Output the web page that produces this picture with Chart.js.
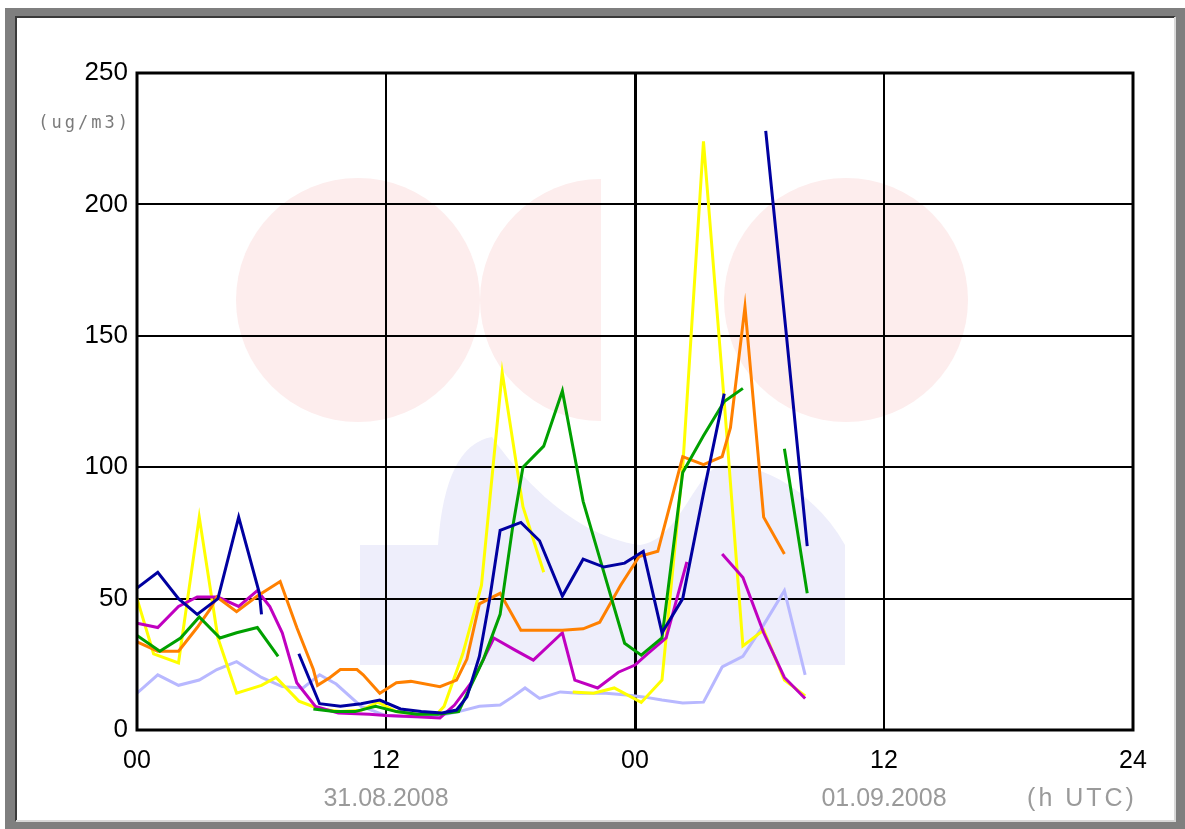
<!DOCTYPE html>
<html>
<head>
<meta charset="utf-8">
<script src="https://cdn.jsdelivr.net/npm/chart.js@4.4.0/dist/chart.umd.min.js"></script>
<style>
html, body { margin: 0; padding: 0; background: #fff; }
#wrap { position: relative; width: 1185px; height: 829px; }
</style>
</head>
<body>
<div id="wrap"><canvas id="chart" width="1185" height="829"></canvas></div>
<script>
// x axis: hours since 31.08.2008 00 UTC
const xTickLabels = ['00', '12', '00', '12', '24'];
const dateLabels = ['31.08.2008', '01.09.2008'];

// null = no measurement (line break)
const navyHours  = [0, 1, 2, 2.9, 3.9, 4.9, 5.9, 6.0, 7, 7.8, 8.8, 9.8, 10.8, 11.7, 12.7, 13.7, 14.7, 15.4, 15.9, 16.5, 17.0, 17.5, 18.5, 19.4, 20.5, 21.5, 22.5, 23.5, 24.4, 25.3, 26.3, 27.3, 28.3, 29.3, 30.3, 31.3, 32.3];
const navyValues = [54, 60, 50, 44, 50, 81, 52, 44, null, 29, 10, 9, 10, 11.4, 8, 7, 6.5, 7.6, 12.6, 28, 50, 76, 79, 72, 51, 65, 62, 63.5, 68, 37, 50, 90, 128, null, 228, 150, 70];

const greenHours  = [0, 1.1, 2.1, 3, 4, 4.8, 5.8, 6.8, 7.6, 8.5, 9.5, 10.5, 11.5, 12.5, 13.5, 14.5, 15.5, 16.7, 17.5, 18.1, 18.6, 19.6, 20.5, 21.5, 22.5, 23.5, 24.3, 25.3, 26.3, 27.3, 28.3, 29.2, 30.2, 31.2, 32.3];
const greenValues = [36, 30, 35, 43, 35, 37, 39, 28, null, 8, 7, 7, 9, 7, 6, 6, 7, 27, 44, 77, 100, 108, 129, 87, 60, 33, 28.5, 35, 98, 112, 125, 130, null, 107, 52];

const yellowHours  = [0, 0.8, 2, 3, 3.9, 4.8, 6, 6.7, 7.8, 8.8, 9.8, 10.8, 11.6, 12.5, 13.5, 14.5, 14.8, 15.7, 16.6, 17.6, 18.6, 19.6, 20.3, 21, 22, 23, 24.3, 25.3, 26.3, 27.3, 28.3, 29.2, 30.2, 31.2, 32.2];
const yellowValues = [50, 29, 25.5, 81, 35, 14, 17, 20, 11, 8, 7, 7.5, 10.6, 7, 6, 6.5, 9, 29, 55, 136, 85, 60, null, 14.5, 14, 16, 10.5, 19, 100, 224, 125, 32, 38, 19, 13];

const orangeHours  = [0, 1, 2, 2.9, 3.5, 3.85, 4.8, 5.8, 6.9, 7.7, 8.5, 8.7, 9.3, 9.8, 10.6, 10.9, 11.7, 12.5, 13.2, 14.6, 15.4, 15.9, 16.5, 17.5, 18.5, 20.5, 21.5, 22.3, 23.3, 24.2, 25.1, 26.3, 27.3, 28.2, 28.6, 29.3, 30.2, 31.2];
const orangeValues = [33.5, 30, 30, 39, 45.7, 50.6, 45, 51, 56.5, 39, 23, 17, 20, 23, 23, 21, 14, 18, 18.5, 16.5, 19, 27, 48, 52, 38, 38, 38.5, 41, 55, 66, 68, 104, 101, 104, 115, 161, 81, 67];

const magentaHours  = [0, 1, 2, 2.9, 3.9, 4.9, 5.8, 6.4, 7, 7.7, 8.6, 9.7, 11.2, 12, 13.5, 14.6, 15.3, 16.2, 17.2, 18.2, 19.1, 20.5, 21.1, 22.2, 23.2, 24, 24.6, 25.5, 26.5, 27.3, 28.2, 29.2, 30.2, 31.2, 32.2];
const magentaValues = [40.6, 39, 47, 50.6, 50.6, 47, 53, 47, 37, 18, 9, 6.5, 6, 5.5, 5, 4.6, 9.5, 19, 35, 30.5, 26.6, 37, 19, 16, 22, 24.7, 29, 35, 64, null, 67, 58, 37, 20, 12];

const lilacHours  = [0, 1, 2, 3, 3.85, 4.8, 6, 7, 8, 8.8, 9.6, 10.8, 12, 13.2, 14.3, 15.5, 16.5, 17.5, 18.1, 18.7, 19.4, 20.4, 21.3, 22.6, 23.6, 24.4, 25.3, 26.3, 27.3, 27.6, 28.2, 29.2, 30.2, 31.2, 32.2];
const lilacValues = [14, 21, 17, 19, 23, 26, 20, 16.5, 16, 21, 17.5, 9, 5.5, 5, 5, 7, 9, 9.5, 12.6, 16, 12, 14.5, 14, 14, 13.3, 12.6, 11.4, 10.3, 10.6, 15, 24, 28, 40, 53, 21];

function toPoints(hours, values) {
    return hours.map(function(h, i) { return { x: h, y: values[i] }; });
}

function series(hours, values, color, order) {
    return {
        data: toPoints(hours, values),
        borderColor: color,
        borderWidth: 3,
        pointRadius: 0,
        tension: 0,
        spanGaps: false,
        fill: false,
        order: order
    };
}

// frame, watermark logo and extra labels
const decoPlugin = {
    id: 'deco',
    beforeDraw: function(chart) {
        const ctx = chart.ctx;
        const a = chart.chartArea;
        ctx.save();
        ctx.fillStyle = '#ffffff';
        ctx.fillRect(0, 0, chart.width, chart.height);
        // gray window frame
        ctx.fillStyle = '#7f7f7f';
        ctx.fillRect(5, 8, chart.width - 5, chart.height - 8);
        ctx.fillStyle = '#ffffff';
        ctx.fillRect(17, 18, 1157, 802);
        ctx.strokeStyle = '#3a3a3a';
        ctx.lineWidth = 2;
        ctx.beginPath();
        ctx.moveTo(16, 821); ctx.lineTo(16, 17); ctx.lineTo(1175, 17);
        ctx.stroke();
        ctx.strokeStyle = '#d8d8d8';
        ctx.beginPath();
        ctx.moveTo(16, 821); ctx.lineTo(1175, 821); ctx.lineTo(1175, 17);
        ctx.stroke();

        // watermark
        ctx.beginPath();
        ctx.rect(a.left, a.top, a.right - a.left, a.bottom - a.top);
        ctx.clip();
        ctx.fillStyle = '#eeeefb';
        ctx.beginPath();
        ctx.moveTo(360, 545);
        ctx.lineTo(438, 545);
        ctx.quadraticCurveTo(445, 445, 492, 437);
        ctx.bezierCurveTo(510, 462, 565, 535, 640, 545);
        ctx.bezierCurveTo(680, 540, 695, 470, 722, 465);
        ctx.bezierCurveTo(780, 462, 830, 515, 845, 545);
        ctx.lineTo(845, 665);
        ctx.lineTo(360, 665);
        ctx.closePath();
        ctx.fill();

        ctx.fillStyle = '#fdeded';
        ctx.beginPath();
        ctx.arc(358, 300, 122, 0, Math.PI * 2);
        ctx.fill();
        ctx.save();
        ctx.beginPath();
        ctx.rect(0, 0, 601, chart.height);
        ctx.clip();
        ctx.beginPath();
        ctx.arc(601, 300, 121, 0, Math.PI * 2);
        ctx.fill();
        ctx.restore();
        ctx.beginPath();
        ctx.arc(846, 300, 122, 0, Math.PI * 2);
        ctx.fill();
        ctx.restore();
    },
    afterDraw: function(chart) {
        const ctx = chart.ctx;
        const a = chart.chartArea;
        const xs = chart.scales.x;
        ctx.save();
        ctx.strokeStyle = '#000';
        ctx.lineWidth = 3;
        ctx.strokeRect(a.left, a.top, a.right - a.left, a.bottom - a.top);

        ctx.fillStyle = '#7a7a7a';
        ctx.textBaseline = 'middle';
        ctx.textAlign = 'right';
        ctx.font = '17px "DejaVu Sans Mono", monospace';
        ctx.letterSpacing = '3px';
        ctx.fillText('(ug/m3)', 131, 124);

        ctx.letterSpacing = '0px';
        ctx.textAlign = 'center';
        ctx.font = '25px "Liberation Sans", Arial, sans-serif';
        ctx.fillStyle = '#9a9a9a';
        ctx.fillText(dateLabels[0], xs.getPixelForValue(12), 799);
        ctx.fillText(dateLabels[1], xs.getPixelForValue(36), 799);
        ctx.letterSpacing = '3px';
        ctx.fillText('(h UTC)', 1082, 799);
        ctx.restore();
    }
};

const ctx = document.getElementById('chart').getContext('2d');
const chart = new Chart(ctx, {
    type: 'line',
    data: {
        datasets: [
            series(navyHours, navyValues, '#0000a0', 1),
            series(greenHours, greenValues, '#00a000', 2),
            series(orangeHours, orangeValues, '#ff8000', 3),
            series(magentaHours, magentaValues, '#c000c0', 4),
            series(yellowHours, yellowValues, '#ffff00', 5),
            series(lilacHours, lilacValues, '#b8b8ff', 6)
        ]
    },
    options: {
        responsive: false,
        animation: false,
        layout: {
            padding: { top: 73, right: 52, left: 0, bottom: 0 }
        },
        plugins: {
            legend: { display: false },
            tooltip: { enabled: false }
        },
        scales: {
            x: {
                type: 'linear',
                min: 0,
                max: 48,
                afterFit: function(scale) { scale.height = 99; },
                ticks: {
                    stepSize: 12,
                    padding: 16,
                    color: '#000',
                    font: { family: '"Liberation Sans", Arial, sans-serif', size: 25 },
                    maxRotation: 0,
                    callback: function(value) { return xTickLabels[value / 12]; }
                },
                grid: {
                    color: '#000',
                    drawTicks: false,
                    lineWidth: function(c) { return c.tick && c.tick.value === 24 ? 3 : 2; }
                },
                border: { display: false }
            },
            y: {
                min: 0,
                max: 250,
                afterFit: function(scale) { scale.width = 137; },
                ticks: {
                    stepSize: 50,
                    padding: 9,
                    color: '#000',
                    font: { family: '"Liberation Sans", Arial, sans-serif', size: 26 }
                },
                grid: {
                    color: '#000',
                    drawTicks: false,
                    lineWidth: 2
                },
                border: { display: false }
            }
        }
    },
    plugins: [decoPlugin]
});
</script>
</body>
</html>
